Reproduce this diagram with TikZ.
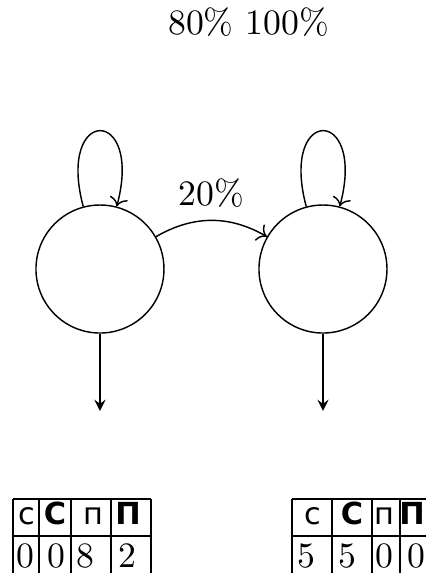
\documentclass[tikz,border=0pt]{standalone}
\usepackage{fontspec}
\newfontfamily\cyrsans{DejaVu Sans}
\usetikzlibrary{arrows.meta,positioning}
\tikzset{
  state/.style={circle, draw, minimum size=1.26cm, inner sep=0pt},
  hd/.style={anchor=base, inner sep=0pt, font=\cyrsans\fontsize{8.5}{10}\selectfont},
  hdb/.style={anchor=base, inner sep=0pt, font=\cyrsans\bfseries\fontsize{8.5}{10}\selectfont},
  num/.style={anchor=base west, inner sep=0pt}
}
\begin{document}
\begin{tikzpicture}
  \useasboundingbox (0,0) rectangle (4.193,-5.640);
  \def\ta{-4.911}
  \def\tb{-5.276}
  \def\tc{-5.640}
  % states
  \node[anchor=base] (pct) at (2.446,-0.344) {80\% 100\%};
  \node[state] (s1) at (0.984,-2.648) {};
  \node[state] (s2) at (3.179,-2.648) {};
  \coordinate (o1) at (0.984,-4.045);
  \coordinate (o2) at (3.179,-4.045);
  \draw[->] (s1) to[loop above] (s1);
  \draw[->] (s2) to[loop above] (s2);
  \draw[->] (s1) to[bend left=30] node[above] (lbl) {20\%} (s2);
  \draw[-stealth] (s1) -- (o1);
  \draw[-stealth] (s2) -- (o2);
  % left table
  \draw (0.128,\ta) -- (1.486,\ta);
  \draw (0.128,\tb) -- (1.486,\tb);
  \draw (0.128,\ta) -- (0.128,\tc);
  \draw (0.384,\ta) -- (0.384,\tc);
  \draw (0.699,\ta) -- (0.699,\tc);
  \draw (1.093,\ta) -- (1.093,\tc);
  \draw (1.486,\ta) -- (1.486,\tc);
  \node[hd]  (ha1) at (0.266,-5.167) {с};
  \node[hdb] (ha2) at (0.541,-5.167) {С};
  \node[hd]  (ha3) at (0.915,-5.167) {п};
  \node[hdb] (ha4) at (1.260,-5.167) {П};
  \node[num] (na1) at (0.157,-5.581) {0};
  \node[num] (na2) at (0.463,-5.581) {0};
  \node[num] (na3) at (0.748,-5.581) {8};
  \node[num] (na4) at (1.161,-5.581) {2};
  % right table
  \draw (2.874,\ta) -- (4.193,\ta);
  \draw (2.874,\tb) -- (4.193,\tb);
  \draw (2.874,\ta) -- (2.874,\tc);
  \draw (3.268,\ta) -- (3.268,\tc);
  \draw (3.661,\ta) -- (3.661,\tc);
  \draw (3.937,\ta) -- (3.937,\tc);
  \node[hd]  (hb1) at (3.081,-5.167) {с};
  \node[hdb] (hb2) at (3.465,-5.167) {С};
  \node[hd]  (hb3) at (3.780,-5.167) {п};
  \node[hdb] (hb4) at (4.055,-5.167) {П};
  \node[num] (nb1) at (2.923,-5.581) {5};
  \node[num] (nb2) at (3.327,-5.581) {5};
  \node[num] (nb3) at (3.691,-5.581) {0};
  \node[num] (nb4) at (4.006,-5.581) {0};
\end{tikzpicture}
\end{document}
